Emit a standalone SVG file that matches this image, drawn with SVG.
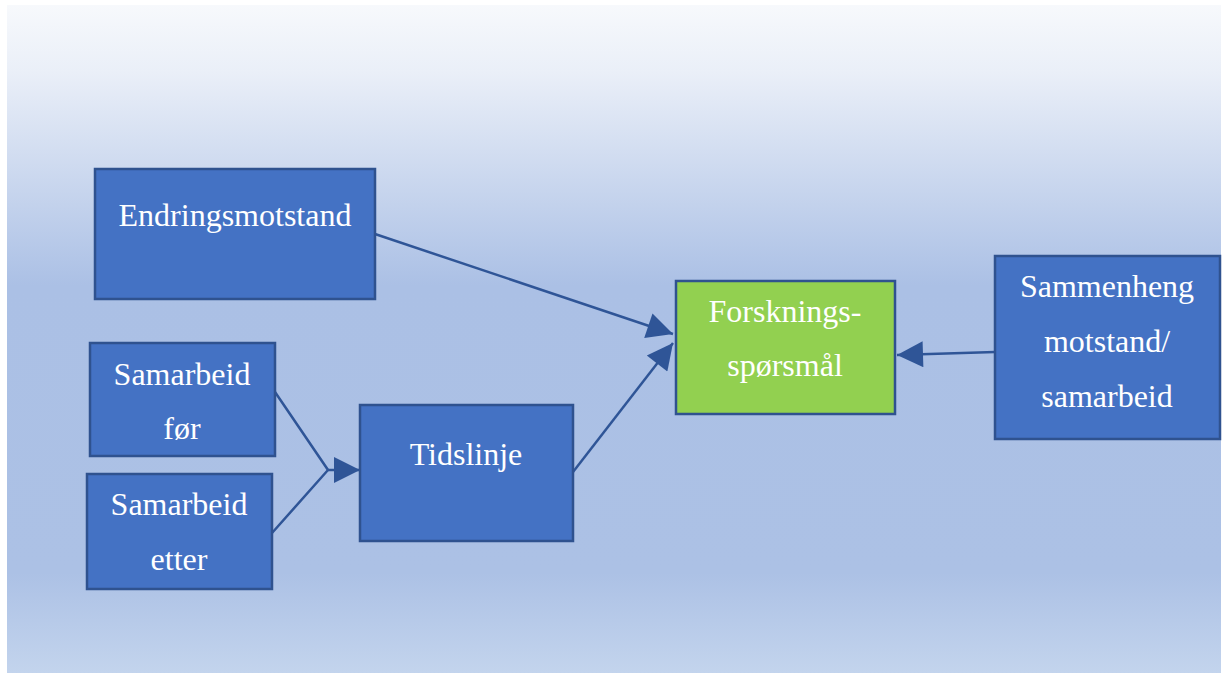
<svg xmlns="http://www.w3.org/2000/svg" width="1225" height="675" viewBox="0 0 1225 675">
<defs>
<linearGradient id="bg" x1="0" y1="0" x2="0" y2="1">
<stop offset="0" stop-color="#f7f9fc"/>
<stop offset="0.1" stop-color="#eaeff8"/>
<stop offset="0.42" stop-color="#abc0e5"/>
<stop offset="0.85" stop-color="#acc1e5"/>
<stop offset="1" stop-color="#c3d4ed"/>
</linearGradient>
<marker id="arrBig" viewBox="0 0 10 10" refX="10" refY="5" markerWidth="28" markerHeight="26" markerUnits="userSpaceOnUse" orient="auto">
<path d="M0,0 L10,5 L0,10 Z" fill="#2f5597"/>
</marker>
</defs>
<style>
.box{fill:#4472c4;stroke:#2f528f;stroke-width:2.5}
.green{fill:#92d050;stroke:#2f528f;stroke-width:2.5}
.t{font-family:"Liberation Serif","Times New Roman",serif;font-size:32px;fill:#ffffff;text-anchor:middle}
.c{fill:none;stroke:#2f5597;stroke-width:2.5}
</style>
<rect x="7" y="5" width="1214" height="668" fill="url(#bg)"/>
<g id="connectors">
<path class="c" d="M375,234 L673,334" marker-end="url(#arrBig)"/>
<path class="c" d="M573,472 L673,343" marker-end="url(#arrBig)"/>
<path class="c" d="M275,392 L328,470 L272,533"/>
<path class="c" d="M328,470 L360,470" marker-end="url(#arrBig)"/>
<path class="c" d="M995,352 L897,355" marker-end="url(#arrBig)"/>
</g>
<g id="endringsmotstand">
<rect class="box" x="95" y="169" width="280" height="130"/>
<text class="t" x="235" y="226">Endringsmotstand</text>
</g>
<g id="samarbeid-for">
<rect class="box" x="90" y="343" width="185" height="113"/>
<text class="t" x="182" y="385">Samarbeid</text>
<text class="t" x="182" y="439">før</text>
</g>
<g id="samarbeid-etter">
<rect class="box" x="87" y="474" width="185" height="115"/>
<text class="t" x="179" y="515">Samarbeid</text>
<text class="t" x="179" y="570">etter</text>
</g>
<g id="tidslinje">
<rect class="box" x="360" y="405" width="213" height="136"/>
<text class="t" x="466" y="465">Tidslinje</text>
</g>
<g id="forskningssporsmal">
<rect class="green" x="676" y="281" width="219" height="133"/>
<text class="t" x="785" y="322">Forsknings-</text>
<text class="t" x="785" y="376">spørsmål</text>
</g>
<g id="sammenheng">
<rect class="box" x="995" y="256" width="225" height="183"/>
<text class="t" x="1107" y="297">Sammenheng</text>
<text class="t" x="1107" y="352">motstand/</text>
<text class="t" x="1107" y="407">samarbeid</text>
</g>
</svg>
